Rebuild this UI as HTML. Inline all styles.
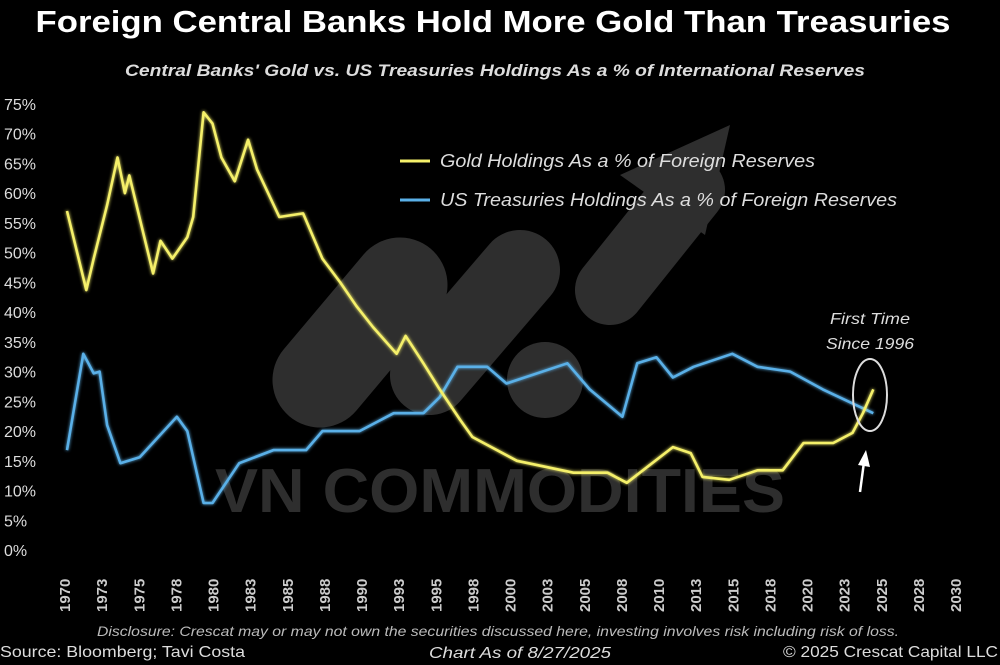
<!DOCTYPE html>
<html><head><meta charset="utf-8">
<style>
html,body{margin:0;padding:0;background:#000;}
svg{display:block;font-family:"Liberation Sans",sans-serif;}
</style></head>
<body>
<svg id="chart" width="1000" height="665" viewBox="0 0 1000 665">
<rect width="1000" height="665" fill="#000"/>
<defs>
<filter id="glow" x="-5%" y="-5%" width="110%" height="110%"><feGaussianBlur stdDeviation="1.6" result="b"/><feMerge><feMergeNode in="b"/><feMergeNode in="SourceGraphic"/></feMerge></filter>
</defs>
<text x="493" y="32" text-anchor="middle" fill="#fff" font-size="31" font-weight="bold" textLength="915" lengthAdjust="spacingAndGlyphs">Foreign Central Banks Hold More Gold Than Treasuries</text>
<text x="495" y="76" text-anchor="middle" fill="#ddd" font-size="17" font-weight="bold" font-style="italic" textLength="740" lengthAdjust="spacingAndGlyphs">Central Banks' Gold vs. US Treasuries Holdings As a % of International Reserves</text>
<g id="watermark" opacity="0.3">
<line x1="320" y1="380" x2="400" y2="285" stroke="#999" stroke-width="95" stroke-linecap="round"/>
<line x1="430" y1="375" x2="520" y2="270" stroke="#999" stroke-width="80" stroke-linecap="round"/>
<circle cx="545" cy="380" r="38" fill="#999"/>
<line x1="610" y1="290" x2="690" y2="190" stroke="#999" stroke-width="70" stroke-linecap="round"/>
<polygon points="620,175 730,125 705,235" fill="#999"/>
<text x="500" y="512" text-anchor="middle" fill="#999" font-size="62" font-weight="bold" textLength="570" lengthAdjust="spacingAndGlyphs">VN COMMODITIES</text>
</g>
<g id="yaxis"></g>
<g id="xaxis"></g>
<g id="series"></g>
<g>
<line x1="400" y1="161" x2="430" y2="161" stroke="#f5f06a" stroke-width="3"/>
<text x="440" y="167" fill="#ddd" font-size="18" font-style="italic" textLength="375" lengthAdjust="spacingAndGlyphs">Gold Holdings As a % of Foreign Reserves</text>
<line x1="400" y1="200" x2="430" y2="200" stroke="#5ab0e8" stroke-width="3"/>
<text x="440" y="206" fill="#ddd" font-size="18" font-style="italic" textLength="457" lengthAdjust="spacingAndGlyphs">US Treasuries Holdings As a % of Foreign Reserves</text>
</g>
<g>
<text x="870" y="324" text-anchor="middle" fill="#ddd" font-size="16" font-style="italic" textLength="80" lengthAdjust="spacingAndGlyphs">First Time</text>
<text x="870" y="349" text-anchor="middle" fill="#ddd" font-size="16" font-style="italic" textLength="88" lengthAdjust="spacingAndGlyphs">Since 1996</text>
<ellipse cx="870" cy="395" rx="17" ry="36" fill="none" stroke="#ddd" stroke-width="2"/>
<line x1="860" y1="492" x2="864" y2="462" stroke="#fff" stroke-width="2.5"/>
<polygon points="858,465 866,450 870,467" fill="#fff"/>
</g>
<text x="0" y="657" fill="#ddd" font-size="16" textLength="245" lengthAdjust="spacingAndGlyphs">Source: Bloomberg; Tavi Costa</text>
<text x="520" y="658" text-anchor="middle" fill="#ddd" font-size="16" font-style="italic" textLength="182" lengthAdjust="spacingAndGlyphs">Chart As of 8/27/2025</text>
<text x="998" y="657" text-anchor="end" fill="#ddd" font-size="16" textLength="215" lengthAdjust="spacingAndGlyphs">© 2025 Crescat Capital LLC</text>
<text x="498" y="636" text-anchor="middle" fill="#bbb" font-size="14" font-style="italic" textLength="802" lengthAdjust="spacingAndGlyphs">Disclosure: Crescat may or may not own the securities discussed here, investing involves risk including risk of loss.</text>
</svg>
<script>
const goldYears=[1970.2,1971.5,1972,1972.9,1973.6,1974.1,1974.4,1976,1976.5,1977.3,1978.3,1978.7,1979.4,1980,1980.6,1981.5,1982.4,1983,1984.5,1986.1,1987.4,1988.6,1989.7,1990.8,1992.4,1993,1994.2,1995.3,1996.7,1997.5,2000.5,2004.3,2006.6,2007.9,2011,2012.2,2013,2014.8,2016.7,2018.4,2019.8,2021.8,2023.1,2023.8,2024.5];
const goldValues=[57,43.7,49,58,66,60,63,46.5,52,49,52.6,56,73.6,71.7,66,62,69,64,56,56.6,49,45,41,37.5,33,36,31.4,27,21.8,19,15,13,13,11.3,17.3,16.3,12.3,11.8,13.4,13.4,18,18,19.7,23,27];
const tsyYears=[1970.2,1971.3,1972,1972.4,1972.9,1973.8,1975.1,1977.6,1978.3,1979.4,1980,1981.8,1984.1,1986.3,1987.4,1989.9,1992.2,1994.2,1995.3,1996.5,1998.5,1999.8,2003.9,2005.4,2007.6,2008.6,2009.9,2011,2012.4,2015,2016.7,2018.9,2021.1,2024.5];
const tsyValues=[16.8,33,29.7,30,21,14.6,15.6,22.4,20,7.9,7.9,14.6,16.8,16.8,20,20,23,23,25.7,30.8,30.8,28,31.4,27,22.4,31.4,32.4,29,30.8,33,30.8,30,27,23];
const yTicks=[0,5,10,15,20,25,30,35,40,45,50,55,60,65,70,75];
const xTicks=["1970","1973","1975","1978","1980","1983","1985","1988","1990","1993","1995","1998","2000","2003","2005","2008","2010","2013","2015","2018","2020","2023","2025","2028","2030"];
const NS="http://www.w3.org/2000/svg";
function xs(yr){return 64+(yr-1970)*(891/60);}
function ys(p){return 550-p*(446/75);}
const ya=document.getElementById('yaxis');
yTicks.forEach(v=>{const t=document.createElementNS(NS,'text');


t.setAttribute('x',4);t.setAttribute('y',ys(v)+6);t.setAttribute('fill','#ddd');t.setAttribute('font-size','16');t.textContent=v+'%';ya.appendChild(t);});
const xa=document.getElementById('xaxis');
xTicks.forEach((s,i)=>{const x=xs(1970+i*2.5);const t=document.createElementNS(NS,'text');


t.setAttribute('transform','translate('+(x+6)+',612) rotate(-90)');t.setAttribute('fill','#ccc');t.setAttribute('font-size','15');t.setAttribute('font-weight','bold');t.textContent=s;xa.appendChild(t);});
function line(yrs,vals,color,name){const p=document.createElementNS(NS,'polyline');


p.setAttribute('points',yrs.map((y,i)=>xs(y).toFixed(1)+','+ys(vals[i]).toFixed(1)).join(' '));
p.setAttribute('fill','none');p.setAttribute('stroke',color);p.setAttribute('stroke-width','2.6');p.setAttribute('stroke-linejoin','round');p.setAttribute('filter','url(#glow)');
document.getElementById('series').appendChild(p);}
line(tsyYears,tsyValues,'#5ab0e8','treasuries-line');
line(goldYears,goldValues,'#f5f06a','gold-line');
</script>
</body></html>
